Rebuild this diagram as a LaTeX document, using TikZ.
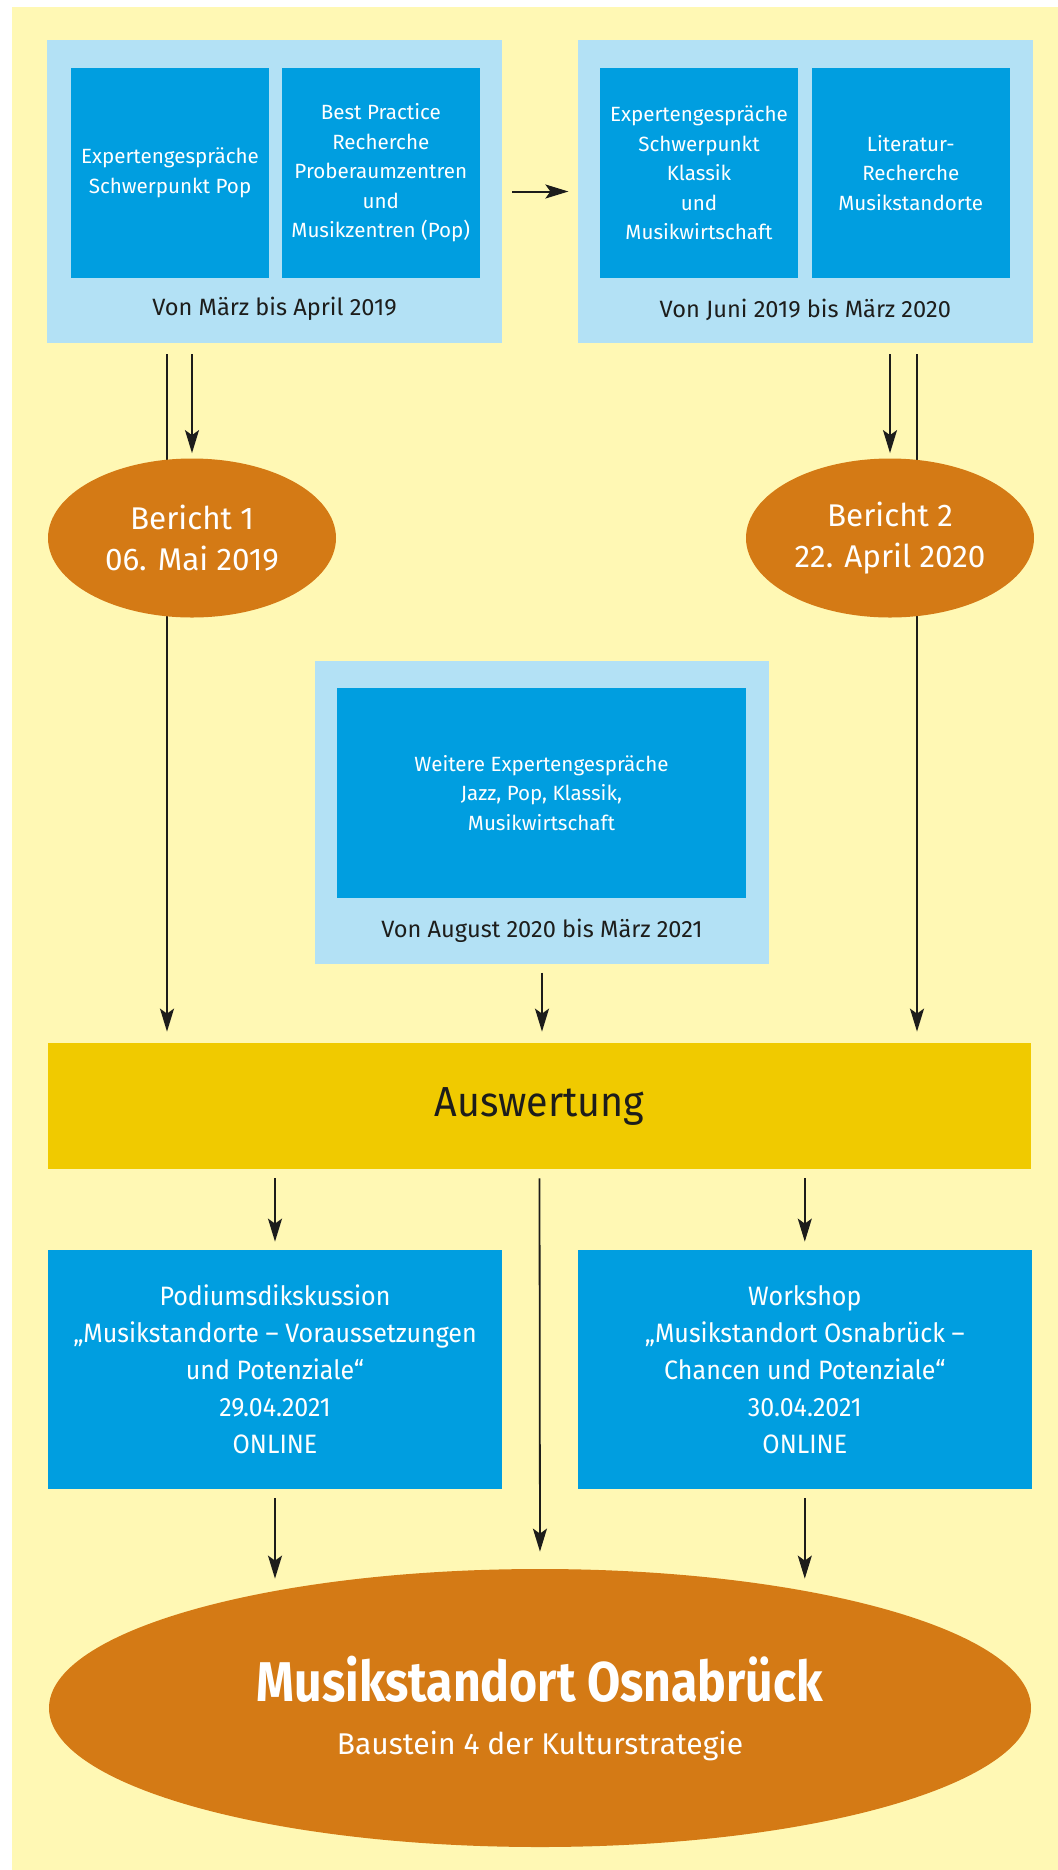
\documentclass[tikz,border=0pt]{standalone}
\usepackage{fontspec}
\setmainfont{Fira Sans}
\newfontfamily\narrowfont{Fira Sans}[FakeStretch=0.94]
\newfontfamily\titlefont{Fira Sans}[FakeStretch=0.86]
\usepackage{xcolor}
\usetikzlibrary{arrows.meta,positioning,shapes.geometric}

\definecolor{bgyellow}{HTML}{FFF8B4}
\definecolor{lightblue}{HTML}{B3E1F5}
\definecolor{midblue}{HTML}{009EE0}
\definecolor{berorange}{HTML}{D47A15}
\definecolor{gold}{HTML}{F0CA00}
\definecolor{darktext}{HTML}{1D1D1B}

\begin{document}
\begin{tikzpicture}[
    x=0.5pt, y=-0.5pt,
    outer/.style={fill=lightblue, minimum width=227.5pt, minimum height=151.5pt, inner sep=0pt},
    inner/.style={fill=midblue, text=white, minimum width=99pt, minimum height=105pt, align=center, inner sep=0pt, font=\fontsize{10.3}{14.75}\selectfont},
    period/.style={text=darktext, inner sep=0pt, font=\fontsize{11.8}{14}\selectfont},
    bericht/.style={ellipse, fill=berorange, text=white, minimum width=144pt, minimum height=79.5pt, inner sep=0pt, align=center, font=\fontsize{15.7}{20.5}\selectfont},
    event/.style={fill=midblue, text=white, minimum width=227pt, minimum height=119.5pt, inner sep=0pt, align=center, font=\narrowfont\fontsize{13.3}{18.5}\selectfont},
    arr/.style={-{Stealth[length=11.5pt, width=7pt, inset=2.5pt]}, line width=0.9pt, draw=darktext, fill=darktext},
    harr/.style={arr, line width=1pt},
]
% Background
\fill[white] (0,0) rectangle (1058,1870);
\fill[bgyellow] (12,7) rectangle (1058,1870);
\useasboundingbox (0,0) rectangle (1058,1870);

% Phases
\node (box1) [outer] at (274.5,191.5) {};
\node (box2) [outer, right=37.5pt of box1] {};
\node (pop) [inner] at (170,173) {Expertengespräche\\Schwerpunkt Pop};
\node (best) [inner, right=6pt of pop] {Best Practice\\Recherche\\Proberaumzentren\\und\\Musikzentren (Pop)};
\node (klassik) [inner] at (699,173) {Expertengespräche\\Schwerpunkt\\Klassik\\und\\Musikwirtschaft};
\node (lit) [inner, right=6.5pt of klassik] {Literatur-\\Recherche\\Musikstandorte};
\node (per1) [period, above=11pt of box1.south] {Von März bis April 2019};
\node (per2) [period, above=11pt of box2.south] {Von Juni 2019 bis März 2020};

\node (box3) [outer, minimum width=227pt] at (542,812) {};
\node (weitere) [inner, minimum width=204.5pt] at (541.5,793) {Weitere Expertengespräche\\Jazz, Pop, Klassik,\\Musikwirtschaft};
\node (per3) [period, above=10.5pt of box3.south] {Von August 2020 bis März 2021};

\node (ausw) [fill=gold, text=darktext, minimum width=491.5pt, minimum height=63pt, inner sep=0pt, font=\narrowfont\fontsize{21}{25}\selectfont] at (539.5,1106) {Auswertung};

\node (podium) [event] at (275,1369.5) {Podiumsdikskussion\\„Musikstandorte – Voraussetzungen\\und Potenziale“\\29.04.2021\\ONLINE};
\node (workshop) [event, right=37.5pt of podium] {Workshop\\„Musikstandort Osnabrück –\\Chancen und Potenziale“\\30.04.2021\\ONLINE};

% Lines running behind the reports
\coordinate (l1) at (167,0);
\coordinate (l2) at (917,0);
\draw[arr, shorten <=5.5pt, shorten >=5.5pt] (l1 |- box1.south) -- (l1 |- ausw.north);
\draw[arr, shorten <=5.5pt, shorten >=5.5pt] (l2 |- box2.south) -- (l2 |- ausw.north);

% Reports and result
\node (ber1) [bericht] at (192,538) {Bericht 1\\06. Mai 2019};
\node (ber2) [bericht] at (890,538) {Bericht 2\\22. April 2020};
\node (final) [ellipse, fill=berorange, text=white, minimum width=491pt, minimum height=139pt, inner sep=0pt, align=center, font=\fontsize{15}{26.5}\selectfont] at (540,1708) {{\titlefont\fontsize{28}{26.5}\selectfont\bfseries Musikstandort Osnabrück}\\Baustein 4 der Kulturstrategie};

% Arrows
\draw[harr, shorten <=5pt, shorten >=4.5pt] (box1) -- (box2);
\draw[arr, shorten <=5.5pt, shorten >=2.5pt] (box1.south -| ber1.north) -- (ber1.north);
\draw[arr, shorten <=5.5pt, shorten >=2.5pt] (box2.south -| ber2.north) -- (ber2.north);
\draw[arr, shorten <=4.5pt, shorten >=5.5pt] (box3.south) -- (box3.south |- ausw.north);
\draw[arr, shorten <=4.5pt, shorten >=4pt] (ausw.south -| podium.north) -- (podium.north);
\draw[arr, shorten <=4.5pt, shorten >=4pt] (ausw.south -| workshop.north) -- (workshop.north);
\draw[arr, shorten <=4.5pt, shorten >=8.5pt] (ausw.south) -- (final.north);
\draw[arr, shorten <=4.5pt, shorten >=-5pt] (podium.south) -- (podium.south |- final.north);
\draw[arr, shorten <=4.5pt, shorten >=-5pt] (workshop.south) -- (workshop.south |- final.north);
\end{tikzpicture}
\end{document}
